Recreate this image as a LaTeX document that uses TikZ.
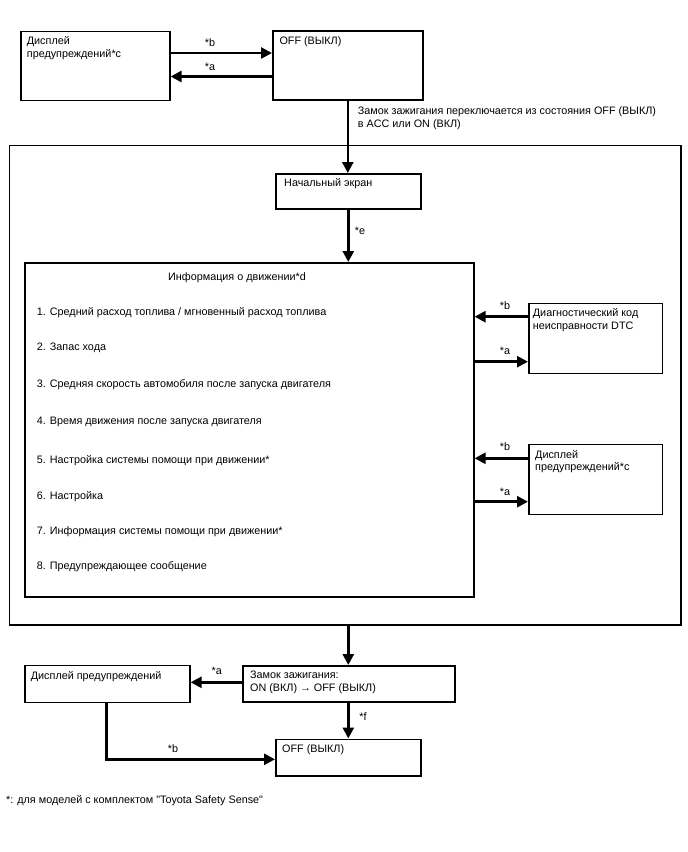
\documentclass[tikz,border=0pt]{standalone}
\usepackage{fontspec}
\setmainfont{Liberation Sans}[Ligatures=TeXOff]
\usetikzlibrary{arrows.meta}
\tikzset{
  box/.style={draw, line width=1.6pt, inner sep=0pt, anchor=north west},
  txt/.style={anchor=north west, align=left, inner sep=0pt, font=\fontsize{10.8}{12.6}\selectfont},
  lbl/.style={anchor=center, inner sep=0pt, font=\fontsize{10.8}{12}\selectfont},
  arr/.style={line width=2.6pt, -{Triangle[length=11pt,width=11pt]}},
  ln/.style={line width=2.6pt}
}
\begin{document}
\begin{tikzpicture}[x=1pt,y=-1pt]
\useasboundingbox (0,0) rectangle (688,852);
% boxes
\node[box, minimum width=149pt, minimum height=69pt] (A) at (20,30.5) {};
\node[box, minimum width=150pt, minimum height=69pt] (B) at (272,30) {};
\node[box, minimum width=671.5pt, minimum height=479.5pt] (frame) at (8.5,144.5) {};
\node[box, minimum width=145pt, minimum height=35pt] (start) at (275,173) {};
\node[box, minimum width=449pt, minimum height=334pt] (info) at (24,262) {};
\node[box, minimum width=133.5pt, minimum height=70pt] (dtc) at (528,302.5) {};
\node[box, minimum width=133.5pt, minimum height=70pt] (warnR) at (528,443.5) {};
\node[box, minimum width=212pt, minimum height=36pt] (zamok) at (242,665) {};
\node[box, minimum width=165pt, minimum height=37pt] (warnL) at (24,664.5) {};
\node[box, minimum width=145pt, minimum height=36.5pt] (off2) at (275,738.5) {};
% texts
\node[txt] (tA) at (26.7,36.7) {Дисплей\\предупреждений*c};
\node[txt] (tB) at (279.3,36.7) {OFF (ВЫКЛ)};
\node[txt] (tZ) at (357.7,106.7) {Замок зажигания переключается из состояния OFF (ВЫКЛ)\\в ACC или ON (ВКЛ)};
\node[txt] (tS) at (284,178.7) {Начальный экран};
\node[txt] (tI) at (168,272) {Информация о движении*d};
\node[txt] (i1) at (36.7,307.7) {1. Средний расход топлива / мгновенный расход топлива};
\node[txt] (i2) at (36.7,342.7) {2. Запас хода};
\node[txt] (i3) at (36.7,379.3) {3. Средняя скорость автомобиля после запуска двигателя};
\node[txt] (i4) at (36.7,416.7) {4. Время движения после запуска двигателя};
\node[txt] (i5) at (36.7,455.3) {5. Настройка системы помощи при движении*};
\node[txt] (i6) at (36.7,491.3) {6. Настройка};
\node[txt] (i7) at (36.7,526.7) {7. Информация системы помощи при движении*};
\node[txt] (i8) at (36.7,561.3) {8. Предупреждающее сообщение};
\node[txt] (tD) at (532.7,308.7) {Диагностический код\\неисправности DTC};
\node[txt] (tW) at (535,450) {Дисплей\\предупреждений*c};
\node[txt] (tZm) at (250,671) {Замок зажигания:\\ON (ВКЛ) → OFF (ВЫКЛ)};
\node[txt] (tWL) at (30.7,671.7) {Дисплей предупреждений};
\node[txt] (tO2) at (282,744) {OFF (ВЫКЛ)};
\node[txt] (foot) at (6,795) {*: для моделей с комплектом "Toyota Safety Sense"};
% labels
\node[lbl] (lb1) at (210,43) {*b};
\node[lbl] (la1) at (210,67) {*a};
\node[lbl] (le) at (360,230.7) {*e};
\node[lbl] (lb2) at (505,306) {*b};
\node[lbl] (la2) at (505,351) {*a};
\node[lbl] (lb3) at (505,447) {*b};
\node[lbl] (la3) at (505,492.3) {*a};
\node[lbl] (la4) at (216.7,670.7) {*a};
\node[lbl] (lf) at (363,717) {*f};
\node[lbl] (lb4) at (173,749) {*b};
% connectors
\draw[arr] (A.east |- 0,53) -- (B.west |- 0,53);
\draw[arr] (B.west |- 0,76.5) -- (A.east |- 0,76.5);
\draw[arr] (B.south) -- (B.south |- start.north);
\draw[arr] (start.south) -- (start.south |- info.north);
\draw[arr] (dtc.west |- 0,316.7) -- (info.east |- 0,316.7);
\draw[arr] (info.east |- 0,361.7) -- (dtc.west |- 0,361.7);
\draw[arr] (warnR.west |- 0,458.3) -- (info.east |- 0,458.3);
\draw[arr] (info.east |- 0,501.7) -- (warnR.west |- 0,501.7);
\draw[arr] (start.south |- frame.south) -- (start.south |- zamok.north);
\draw[arr] (zamok.west |- 0,682.3) -- (warnL.east |- 0,682.3);
\draw[arr] (zamok.south -| off2.north) -- (off2.north);
\draw[arr] (warnL.south -| 106.7,0) -- (106.7,759.3) -- (off2.west |- 0,759.3);
\end{tikzpicture}
\end{document}
